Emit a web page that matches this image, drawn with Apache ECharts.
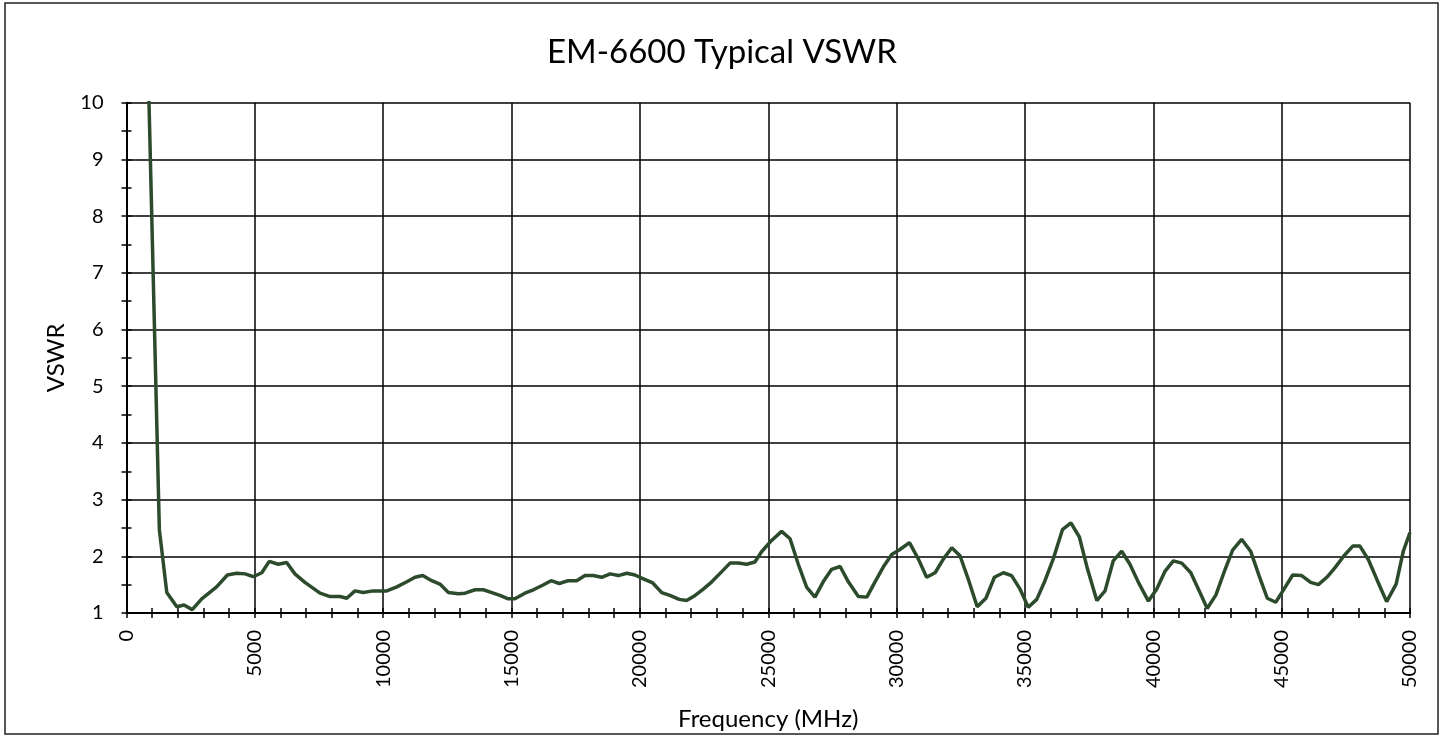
<!DOCTYPE html>
<html>
<head>
<meta charset="utf-8">
<title>EM-6600 Typical VSWR</title>
<script src="https://cdn.jsdelivr.net/npm/echarts@6/dist/echarts.min.js"></script>
<style>
  html, body { margin: 0; padding: 0; background: #fff; }
  #chart { width: 1444px; height: 736px; }
</style>
</head>
<body>
<div id="chart"></div>
<script>
// frequency points (MHz)
var freqs = [630, 1280, 1570, 1960, 2240, 2560, 2930, 3510, 3930, 4290, 4620, 4940, 5270, 5560, 5910, 6240, 6560, 6950, 7540, 7930,
  8320, 8580, 8900, 9220, 9610, 10140, 10530, 10920, 11240, 11540, 11890, 12210, 12540, 12930, 13190, 13580, 13900, 14230, 14550, 14870,
  15130, 15520, 15850, 16210, 16540, 16860, 17210, 17540, 17860, 18180, 18510, 18840, 19160, 19490, 19810, 20000, 20500, 20850, 21170, 21530,
  21820, 22150, 22470, 22800, 23190, 23510, 23830, 24160, 24480, 24740, 25130, 25520, 25850, 26170, 26500, 26820, 27140, 27470, 27800, 28120,
  28510, 28840, 29160, 29480, 29810, 30130, 30500, 30850, 31170, 31500, 31820, 32150, 32470, 32790, 33140, 33480, 33810, 34160, 34480, 34810,
  35130, 35460, 35780, 36100, 36460, 36790, 37120, 37440, 37800, 38120, 38440, 38770, 39090, 39420, 39810, 40130, 40460, 40780, 41110, 41460,
  41790, 42100, 42440, 42750, 43090, 43440, 43790, 44120, 44440, 44770, 45090, 45430, 45780, 46130, 46430, 46760, 47080, 47430, 47770, 48050,
  48380, 48730, 49090, 49460, 49740, 50000];

// VSWR at each frequency
var vswr = [14.6, 2.47, 1.36, 1.11, 1.14, 1.06, 1.25, 1.46, 1.67, 1.70, 1.69, 1.64, 1.71, 1.91, 1.86, 1.89, 1.69, 1.54, 1.35, 1.29,
  1.29, 1.26, 1.39, 1.36, 1.39, 1.39, 1.46, 1.55, 1.63, 1.66, 1.57, 1.51, 1.36, 1.34, 1.35, 1.41, 1.41, 1.36, 1.31, 1.25,
  1.25, 1.35, 1.41, 1.49, 1.57, 1.52, 1.57, 1.57, 1.66, 1.66, 1.63, 1.69, 1.66, 1.70, 1.67, 1.63, 1.53, 1.36, 1.31, 1.24,
  1.22, 1.31, 1.42, 1.55, 1.73, 1.88, 1.88, 1.86, 1.90, 2.08, 2.28, 2.44, 2.31, 1.86, 1.45, 1.28, 1.55, 1.77, 1.82, 1.55,
  1.29, 1.28, 1.55, 1.81, 2.03, 2.12, 2.24, 1.95, 1.63, 1.71, 1.95, 2.15, 2.01, 1.60, 1.11, 1.26, 1.63, 1.71, 1.66, 1.42,
  1.10, 1.24, 1.57, 1.95, 2.47, 2.59, 2.34, 1.77, 1.22, 1.39, 1.92, 2.09, 1.86, 1.54, 1.21, 1.42, 1.74, 1.92, 1.88, 1.71,
  1.39, 1.08, 1.32, 1.71, 2.11, 2.30, 2.09, 1.66, 1.26, 1.19, 1.42, 1.67, 1.66, 1.54, 1.50, 1.63, 1.80, 2.01, 2.18, 2.18,
  1.94, 1.57, 1.20, 1.51, 2.09, 2.42];

var xTicks = [0, 5000, 10000, 15000, 20000, 25000, 30000, 35000, 40000, 45000, 50000];
var yTicks = [1, 2, 3, 4, 5, 6, 7, 8, 9, 10];

var points = freqs.map(function (f, i) { return [f, vswr[i]]; });

var font = 'Lato';
var myChart = echarts.init(document.getElementById('chart'));
var option = {
  animation: false,
  backgroundColor: '#fff',
  title: {
    text: 'EM-6600 Typical VSWR',
    left: 'center',
    top: 31,
    textStyle: { fontFamily: font, fontSize: 33, fontWeight: 'normal', color: '#000' }
  },
  graphic: [{
    type: 'rect',
    shape: { x: 5, y: 3, width: 1433, height: 731 },
    style: { fill: null, stroke: '#222', lineWidth: 1.5 },
    z: 100
  }],
  grid: { left: 126.5, right: 34, top: 102.7, bottom: 118 },
  xAxis: [{
    type: 'value',
    min: xTicks[0],
    max: xTicks[xTicks.length - 1],
    interval: 5000,
    name: 'Frequency (MHz)',
    nameLocation: 'middle',
    nameGap: 94,
    nameTextStyle: { fontFamily: font, fontSize: 24, color: '#000' },
    axisLine: { lineStyle: { color: '#000', width: 2 } },
    axisTick: { show: true, length: 5, lineStyle: { color: '#000', width: 1.5 } },
    minorTick: { show: true, splitNumber: 5, length: 5, lineStyle: { color: '#000', width: 1.5 } },
    axisLabel: {
      rotate: 90, margin: 17,
      fontFamily: font, fontSize: 20, color: '#000',
      formatter: function (v) { return String(v); }
    },
    splitLine: { show: true, lineStyle: { color: '#000', width: 1.5 } }
  }, {
    // inside copy so the ticks cross the axis line
    type: 'value',
    position: 'bottom',
    min: xTicks[0],
    max: xTicks[xTicks.length - 1],
    interval: 5000,
    axisLine: { show: false },
    axisTick: { show: true, inside: true, length: 5, lineStyle: { color: '#000', width: 1.5 } },
    minorTick: { show: true, splitNumber: 5, length: 5, lineStyle: { color: '#000', width: 1.5 } },
    axisLabel: { show: false },
    splitLine: { show: false }
  }],
  yAxis: [{
    type: 'value',
    min: yTicks[0],
    max: yTicks[yTicks.length - 1],
    interval: 1,
    name: 'VSWR',
    nameLocation: 'middle',
    nameGap: 58,
    nameTextStyle: { fontFamily: font, fontSize: 24, color: '#000' },
    axisLine: { show: true, lineStyle: { color: '#000', width: 2 } },
    axisTick: { show: true, length: 5, lineStyle: { color: '#000', width: 1.5 } },
    minorTick: { show: true, splitNumber: 2, length: 5, lineStyle: { color: '#000', width: 1.5 } },
    axisLabel: { margin: 23, fontFamily: font, fontSize: 20, color: '#000' },
    splitLine: { show: true, lineStyle: { color: '#000', width: 1.5 } }
  }, {
    type: 'value',
    position: 'left',
    min: yTicks[0],
    max: yTicks[yTicks.length - 1],
    interval: 1,
    axisLine: { show: false },
    axisTick: { show: true, inside: true, length: 5, lineStyle: { color: '#000', width: 1.5 } },
    minorTick: { show: true, splitNumber: 2, length: 5, lineStyle: { color: '#000', width: 1.5 } },
    axisLabel: { show: false },
    splitLine: { show: false }
  }],
  series: [{
    name: 'VSWR',
    type: 'line',
    data: points,
    showSymbol: false,
    clip: true,
    lineStyle: { color: '#2c4a2c', width: 3.5 },
    z: 10
  }]
};
myChart.setOption(option);
window.addEventListener('resize', function () {
  myChart.resize();
});
</script>
</body>
</html>
